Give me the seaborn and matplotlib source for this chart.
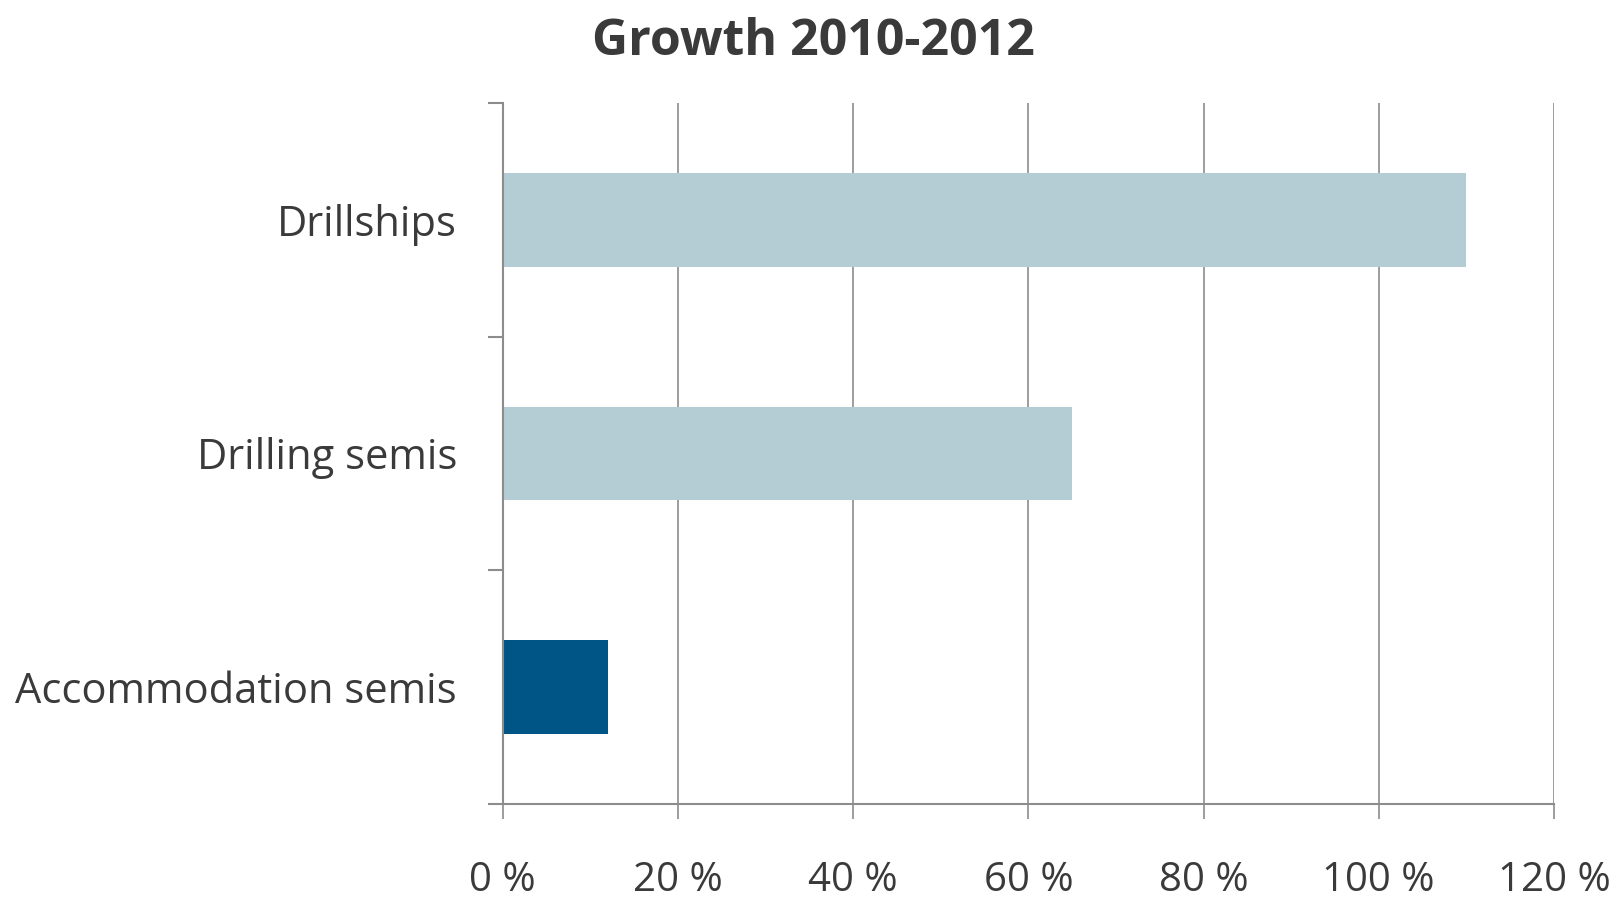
import matplotlib
matplotlib.use("Agg")
import matplotlib.pyplot as plt
import seaborn as sns
import pandas as pd
from matplotlib.ticker import FixedLocator, FuncFormatter

categories = ["Drillships", "Drilling semis", "Accommodation semis"]
growth_pct = [110, 65, 12]
bar_colors = ["#b4cdd4", "#b4cdd4", "#005587"]
x_ticks = [0, 20, 40, 60, 80, 100, 120]
title = "Growth 2010-2012"

sns.set_theme(style="white")
plt.rcParams["font.family"] = ["Open Sans", "DejaVu Sans"]

df = pd.DataFrame({"category": categories, "growth": growth_pct})

fig = plt.figure(figsize=(16.18, 8.98), dpi=100)
ax = fig.add_axes([0.3107, 0.105, 0.9604 - 0.3107, 0.885 - 0.105])

sns.barplot(data=df, y="category", x="growth", hue="category",
            palette=dict(zip(categories, bar_colors)), order=categories,
            width=0.4, legend=False, ax=ax, saturation=1, zorder=2,
            linewidth=0, edgecolor="none")

grid_c = "#8c8c8c"
text_c = "#3a3a3a"
ax.set_xlim(0, 120)
ax.set_ylim(2.5, -0.5)
ax.xaxis.set_major_locator(FixedLocator(x_ticks))
ax.xaxis.set_major_formatter(FuncFormatter(lambda v, p: f"{int(v)} %"))
ax.grid(axis="x", color=grid_c, linewidth=1.2, zorder=0)
ax.grid(axis="y", visible=False)
ax.set_axisbelow(True)

for s in ["top", "right"]:
    ax.spines[s].set_visible(False)
for s in ["left", "bottom"]:
    ax.spines[s].set_color(grid_c)
    ax.spines[s].set_linewidth(1.5)
    ax.spines[s].set_zorder(3)

ax.set_xlabel("")
ax.set_ylabel("")
ax.tick_params(axis="x", which="major", length=11, width=1.2, color=grid_c,
               direction="out", pad=30, labelsize=29, labelcolor=text_c, bottom=True)
ax.tick_params(axis="y", which="major", length=0, pad=33, labelsize=30, labelcolor=text_c)
ax.yaxis.set_minor_locator(FixedLocator([-0.5, 0.5, 1.5, 2.5]))
ax.tick_params(axis="y", which="minor", length=11, width=1.5, color=grid_c, left=True)

fig.text(0.503, 0.953, title, ha="center", va="center", fontsize=36,
         fontweight="bold", color=text_c)

fig.savefig("out.png", dpi=100, facecolor="white")
